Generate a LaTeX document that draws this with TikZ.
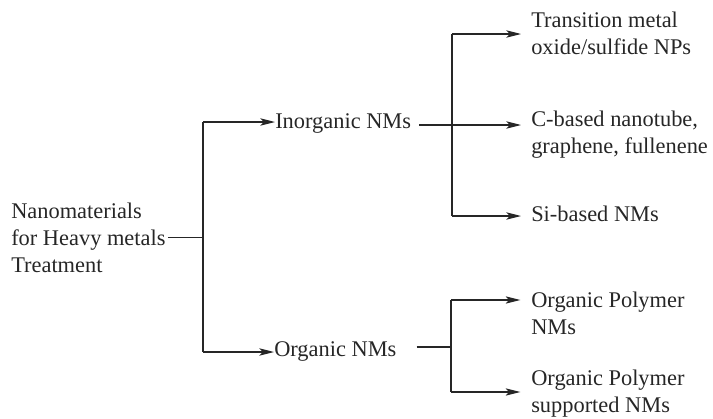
\documentclass[tikz,border=0pt]{standalone}
\usepackage{fontspec}
\setmainfont{Liberation Serif}
\usetikzlibrary{arrows.meta}
\definecolor{ink}{HTML}{262626}
\tikzset{
  lbl/.style={anchor=north west, align=left, inner sep=0pt, text=ink,
    font=\fontsize{16.8}{20}\selectfont},
  link/.style={draw=ink, line width=0.9pt},
  arr/.style={link, -{Stealth[length=11pt, width=5.5pt, inset=2.5pt]}}
}
\begin{document}
\begin{tikzpicture}[x=0.75pt, y=-0.75pt]
  \useasboundingbox (0,0) rectangle (713,418);

  % labels
  \node[lbl] (root) at (11,203) {Nanomaterials\\for Heavy metals\\Treatment};
  \node[lbl] (inorg) at (275,113) {Inorganic NMs};
  \node[lbl] (org) at (274,341) {Organic NMs};
  \node[lbl] (trans) at (531,12) {Transition metal\\oxide/sulfide NPs};
  \node[lbl] (cbase) at (531,111) {C-based nanotube,\\graphene, fullenene};
  \node[lbl] (sibase) at (531,206) {Si-based NMs};
  \node[lbl] (orgpoly) at (531,292) {Organic Polymer\\NMs};
  \node[lbl] (orgsup) at (531,370) {Organic Polymer\\supported NMs};

  % forks
  \coordinate (f0t) at (203,122);
  \coordinate (f0b) at (203,352);
  \coordinate (f1t) at (452,34);
  \coordinate (f1m) at (452,125);
  \coordinate (f1b) at (452,216);
  \coordinate (f2t) at (451,300);
  \coordinate (f2m) at (451,347);
  \coordinate (f2b) at (451,392);

  \draw[link, shorten <=1.5pt] (root.east) -- (root.east -| f0t);
  \draw[link] (f0t) -- (f0b);
  \draw[arr] (f0t) -- (f0t -| inorg.west);
  \draw[arr] (f0b) -- (f0b -| org.west);

  \draw[link, shorten <=6pt] (inorg.east |- f1m) -- (f1m);
  \draw[link] (f1t) -- (f1b);
  \draw[arr, shorten >=7.5pt] (f1t) -- (f1t -| trans.west);
  \draw[arr, shorten >=7.5pt] (f1m) -- (f1m -| cbase.west);
  \draw[arr, shorten >=7.5pt] (f1b) -- (f1b -| sibase.west);

  \draw[link, shorten <=15pt] (org.east |- f2m) -- (f2m);
  \draw[link] (f2t) -- (f2b);
  \draw[arr, shorten >=8pt] (f2t) -- (f2t -| orgpoly.west);
  \draw[arr, shorten >=8pt] (f2b) -- (f2b -| orgsup.west);
\end{tikzpicture}
\end{document}
